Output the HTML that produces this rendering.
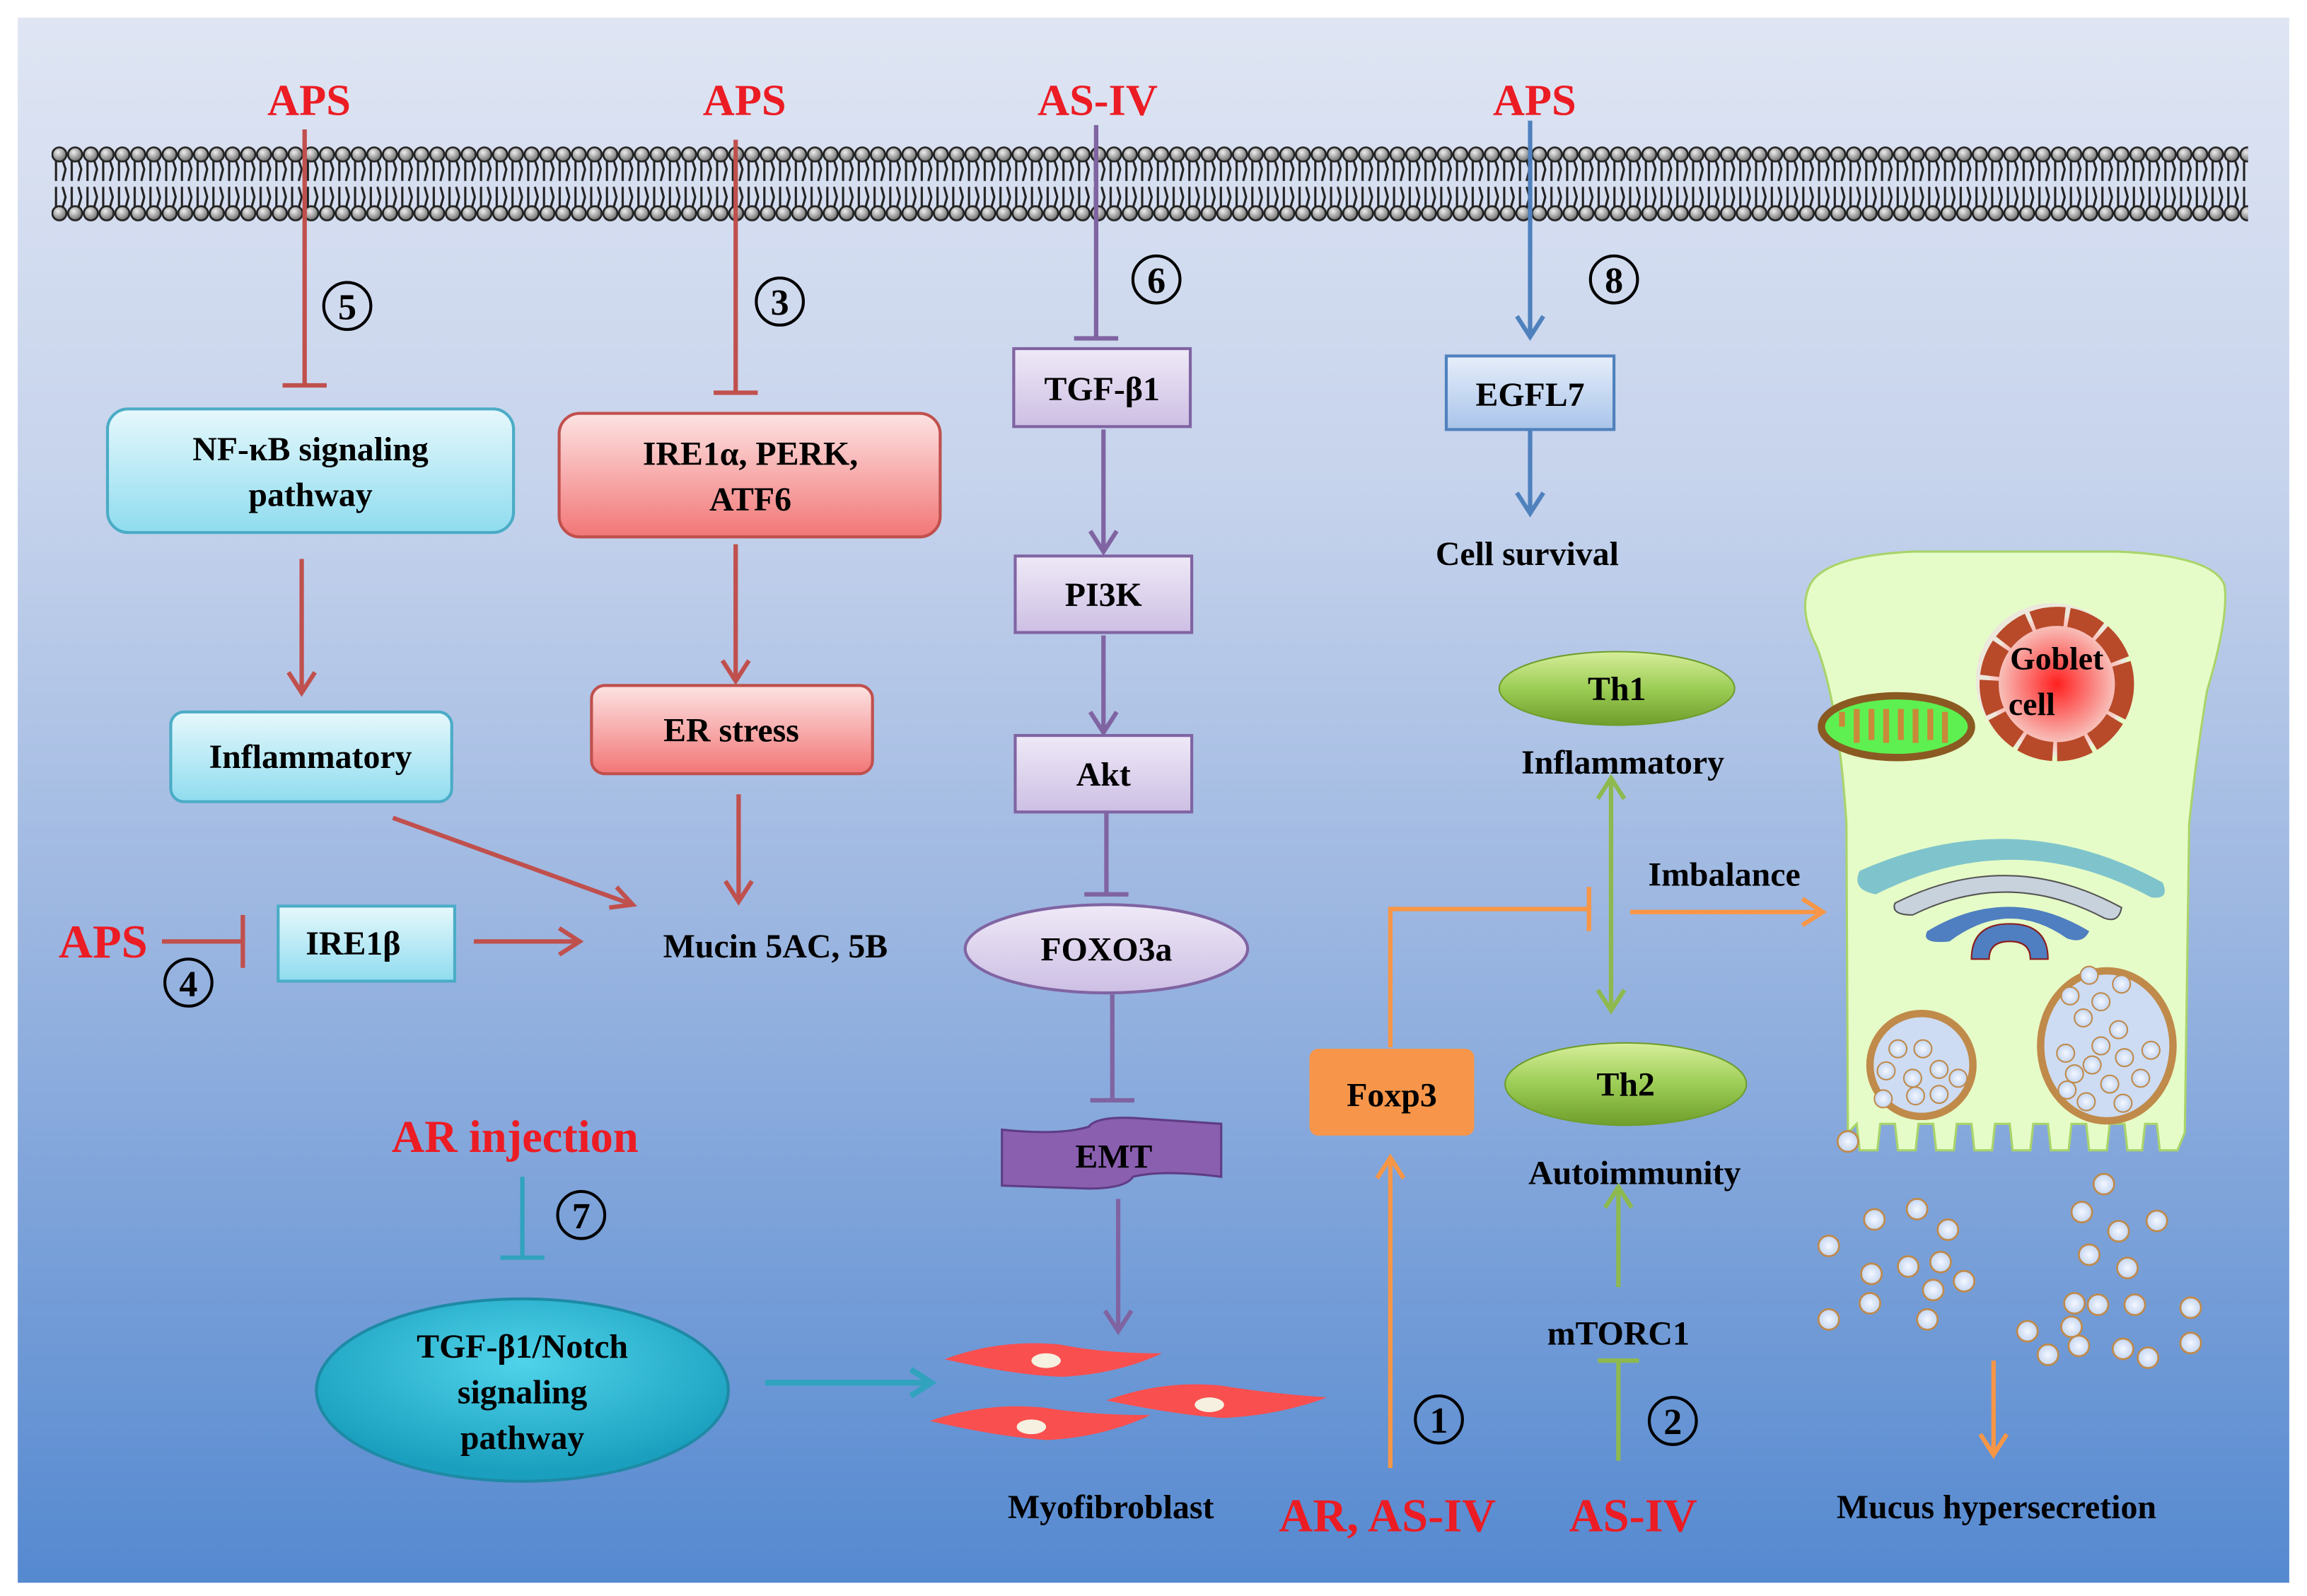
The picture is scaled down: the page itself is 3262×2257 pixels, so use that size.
<!DOCTYPE html>
<html><head><meta charset="utf-8"><style>
html,body{margin:0;padding:0;background:#fff;}
svg{display:block;}
text{font-family:"Liberation Serif",serif;font-weight:bold;}
</style></head><body>
<svg width="3262" height="2257" viewBox="0 0 1568 1085" xmlns="http://www.w3.org/2000/svg">
<defs>
<linearGradient id="bg" x1="0" y1="0" x2="0" y2="1">
<stop offset="0" stop-color="#dfe5f3"/><stop offset="0.3" stop-color="#c6d3ec"/><stop offset="0.6" stop-color="#98b4e0"/><stop offset="1" stop-color="#5589d0"/></linearGradient>
<linearGradient id="cy" x1="0" y1="0" x2="0" y2="1"><stop offset="0" stop-color="#e6f8fc"/><stop offset="1" stop-color="#8fdcef"/></linearGradient>
<linearGradient id="rd" x1="0" y1="0" x2="0" y2="1"><stop offset="0" stop-color="#fde3e3"/><stop offset="1" stop-color="#f27676"/></linearGradient>
<linearGradient id="pu" x1="0" y1="0" x2="0" y2="1"><stop offset="0" stop-color="#efe9f7"/><stop offset="1" stop-color="#cdbfe4"/></linearGradient>
<linearGradient id="bl" x1="0" y1="0" x2="0" y2="1"><stop offset="0" stop-color="#e6eefa"/><stop offset="1" stop-color="#a9c4ea"/></linearGradient>
<linearGradient id="gr" x1="0" y1="0" x2="0" y2="1"><stop offset="0" stop-color="#d7ee9a"/><stop offset="0.5" stop-color="#9ccd55"/><stop offset="1" stop-color="#6f9e2c"/></linearGradient>
<radialGradient id="tl" cx="0.5" cy="0.35" r="0.6"><stop offset="0" stop-color="#4fd3ea"/><stop offset="1" stop-color="#1a9fbe"/></radialGradient>
<radialGradient id="nuc" cx="0.5" cy="0.5" r="0.5"><stop offset="0" stop-color="#ff2020"/><stop offset="1" stop-color="#f7d9d2"/></radialGradient>
<radialGradient id="ves" cx="0.5" cy="0.5" r="0.5"><stop offset="0" stop-color="#f4f7ff"/><stop offset="1" stop-color="#c4d6f2"/></radialGradient>
<radialGradient id="hd" cx="0.4" cy="0.35" r="0.6"><stop offset="0" stop-color="#eee"/><stop offset="1" stop-color="#777"/></radialGradient>
<pattern id="mem" x="35" y="98" width="10.7" height="54" patternUnits="userSpaceOnUse">
<circle cx="5.3" cy="7" r="4.8" fill="url(#hd)" stroke="#222" stroke-width="1.3"/>
<circle cx="5.3" cy="47" r="4.8" fill="url(#hd)" stroke="#222" stroke-width="1.3"/>
<path d="M3 11 V25 M7.5 11 L9.5 17 L7.5 25 M3 29 V43 M7.5 29 L9.5 36 L7.5 43" stroke="#222" stroke-width="1.5" fill="none"/>
</pattern>
</defs>
<rect x="12" y="12" width="1544" height="1064" fill="url(#bg)"/>
<rect x="35" y="98" width="1493" height="54" fill="url(#mem)"/>

<g text-anchor="middle">
<text x="210" y="78" font-size="30" fill="#ec1c24">APS</text>
<text x="506" y="78" font-size="30" fill="#ec1c24">APS</text>
<text x="746" y="78" font-size="30" fill="#ec1c24">AS-IV</text>
<text x="1043" y="78" font-size="30" fill="#ec1c24">APS</text>

<g stroke-width="3" fill="none">
<path d="M207 88 V262 M192 262 H222" stroke="#c0504d"/>
<path d="M500 95 V267 M485 267 H515" stroke="#c0504d"/>
<path d="M745 85 V230 M730 230 H760" stroke="#8064a2"/>
<path d="M1040 82 V228 M1031 215 L1040 229 L1049 215" stroke="#4f81bd"/>
<path d="M1040 292 V348 M1031 335 L1040 349 L1049 335" stroke="#4f81bd"/>
<path d="M205 380 V470 M196 457 L205 471 L214 457" stroke="#c0504d"/>
<path d="M500 370 V462 M491 449 L500 463 L509 449" stroke="#c0504d"/>
<path d="M502 540 V612 M493 599 L502 613 L511 599" stroke="#c0504d"/>
<path d="M267 556 L430 615 M414 617 L430 615 L419 603" stroke="#c0504d"/>
<path d="M110 640 H165 M165 622 V658" stroke="#c0504d"/>
<path d="M322 640 H393 M380 631 L394 640 L380 649" stroke="#c0504d"/>
<path d="M750 292 V374 M741 361 L750 375 L759 361" stroke="#8064a2"/>
<path d="M750 432 V497 M741 484 L750 498 L759 484" stroke="#8064a2"/>
<path d="M752 552 V608 M737 608 H767" stroke="#8064a2"/>
<path d="M756 676 V748 M741 748 H771" stroke="#8064a2"/>
<path d="M760 815 V904 M751 891 L760 905 L769 891" stroke="#8064a2"/>
<path d="M355 800 V855 M340 855 H370" stroke="#31a3bf"/>
<path d="M520 940 H632 M619 931 L633 940 L619 949" stroke="#31a3bf" stroke-width="4"/>
<path d="M945 712 V618 H1080 M1080 603 V633" stroke="#f79646"/>
<path d="M945 998 V788 M936 801 L945 787 L954 801" stroke="#f79646"/>
<path d="M1108 620 H1238 M1225 611 L1239 620 L1225 629" stroke="#f79646"/>
<path d="M1355 925 V988 M1346 975 L1355 989 L1364 975" stroke="#f79646"/>
<path d="M1095 530 V686 M1086 543 L1095 529 L1104 543 M1086 673 L1095 687 L1104 673" stroke="#8eb94f"/>
<path d="M1100 875 V808 M1091 821 L1100 807 L1109 821" stroke="#8eb94f"/>
<path d="M1100 993 V925 M1086 925 H1114" stroke="#8eb94f"/>
</g>

<rect x="73" y="278" width="276" height="84" rx="14" fill="url(#cy)" stroke="#4bacc6" stroke-width="2"/>
<text x="211" y="313" font-size="23">NF-κB signaling</text>
<text x="211" y="344" font-size="23">pathway</text>
<rect x="380" y="281" width="259" height="84" rx="14" fill="url(#rd)" stroke="#c0504d" stroke-width="2"/>
<text x="510" y="316" font-size="23">IRE1α, PERK,</text>
<text x="510" y="347" font-size="23">ATF6</text>
<rect x="116" y="484" width="191" height="61" rx="9" fill="url(#cy)" stroke="#4bacc6" stroke-width="2"/>
<text x="211" y="522" font-size="23">Inflammatory</text>
<rect x="402" y="466" width="191" height="60" rx="9" fill="url(#rd)" stroke="#c0504d" stroke-width="2"/>
<text x="497" y="504" font-size="23">ER stress</text>
<rect x="189" y="616" width="120" height="51" fill="url(#cy)" stroke="#4bacc6" stroke-width="2"/>
<text x="240" y="649" font-size="23">IRE1β</text>
<text x="527" y="651" font-size="23">Mucin 5AC, 5B</text>
<text x="70" y="651" font-size="32" fill="#ec1c24">APS</text>

<rect x="689" y="237" width="120" height="53" fill="url(#pu)" stroke="#8064a2" stroke-width="2"/>
<text x="749" y="272" font-size="23">TGF-β1</text>
<rect x="690" y="378" width="120" height="52" fill="url(#pu)" stroke="#8064a2" stroke-width="2"/>
<text x="750" y="412" font-size="23">PI3K</text>
<rect x="690" y="500" width="120" height="52" fill="url(#pu)" stroke="#8064a2" stroke-width="2"/>
<text x="750" y="534" font-size="23">Akt</text>
<ellipse cx="752" cy="645" rx="96" ry="30" fill="url(#pu)" stroke="#8064a2" stroke-width="2"/>
<text x="752" y="653" font-size="23">FOXO3a</text>
<path d="M681 768 Q720 772 740 766 Q745 759 770 760 L830 764 L830 800 Q790 795 770 800 Q765 808 740 808 L681 806 Z" fill="#8a5fb0" stroke="#5f3c85" stroke-width="1.5"/>
<text x="757" y="794" font-size="23">EMT</text>

<rect x="983" y="242" width="114" height="50" fill="url(#bl)" stroke="#4f81bd" stroke-width="2"/>
<text x="1040" y="276" font-size="23">EGFL7</text>
<text x="1038" y="384" font-size="23">Cell survival</text>

<g fill="none" stroke="#000" stroke-width="2">
<circle cx="236" cy="208" r="16"/><circle cx="530" cy="205" r="16"/><circle cx="786" cy="190" r="16"/><circle cx="1097" cy="190" r="16"/>
<circle cx="128" cy="668" r="16"/><circle cx="395" cy="826" r="16"/><circle cx="978" cy="965" r="16"/><circle cx="1137" cy="966" r="16"/>
</g>
<g font-size="25" font-weight="normal">
<text x="236" y="217" font-weight="normal">5</text><text x="530" y="214" font-weight="normal">3</text><text x="786" y="199" font-weight="normal">6</text><text x="1097" y="199" font-weight="normal">8</text>
<text x="128" y="677" font-weight="normal">4</text><text x="395" y="835" font-weight="normal">7</text><text x="978" y="974" font-weight="normal">1</text><text x="1137" y="975" font-weight="normal">2</text>
</g>

<text x="350" y="783" font-size="31" fill="#ec1c24">AR injection</text>
<ellipse cx="355" cy="945" rx="140" ry="62" fill="url(#tl)" stroke="#1e8aa5" stroke-width="2"/>
<text x="355" y="923" font-size="23">TGF-β1/Notch</text>
<text x="355" y="954" font-size="23">signaling</text>
<text x="355" y="985" font-size="23">pathway</text>

<g fill="#f94f4f">
<path d="M642 924 Q680 910 720 914 Q750 920 790 920 Q760 934 722 936 Q690 935 642 924Z"/>
<path d="M632 966 Q670 953 710 957 Q740 962 782 962 Q750 977 712 979 Q680 977 632 966Z"/>
<path d="M752 952 Q790 938 830 942 Q860 947 902 950 Q870 962 832 964 Q800 962 752 952Z"/>
</g>
<g fill="#f5f0e0"><ellipse cx="711" cy="925" rx="10" ry="5"/><ellipse cx="701" cy="970" rx="10" ry="5"/><ellipse cx="822" cy="955" rx="10" ry="5"/></g>
<text x="755" y="1032" font-size="23">Myofibroblast</text>
<text x="943" y="1041" font-size="32" fill="#ec1c24">AR, AS-IV</text>
<text x="1110" y="1041" font-size="32" fill="#ec1c24">AS-IV</text>

<rect x="890" y="713" width="112" height="59" rx="6" fill="#f7964a"/>
<text x="946" y="752" font-size="23">Foxp3</text>
<ellipse cx="1099" cy="468" rx="80" ry="25" fill="url(#gr)" stroke="#6f9e2c" stroke-width="1"/>
<text x="1099" y="476" font-size="23">Th1</text>
<text x="1103" y="526" font-size="23">Inflammatory</text>
<text x="1172" y="602" font-size="23">Imbalance</text>
<ellipse cx="1105" cy="737" rx="82" ry="28" fill="url(#gr)" stroke="#6f9e2c" stroke-width="1"/>
<text x="1105" y="745" font-size="23">Th2</text>
<text x="1111" y="805" font-size="23">Autoimmunity</text>
<text x="1100" y="914" font-size="23">mTORC1</text>
<text x="1357" y="1032" font-size="23">Mucus hypersecretion</text>
</g>

<path d="M1230 398 Q1240 378 1300 375 L1440 375 Q1505 378 1512 398 Q1515 420 1500 470 Q1492 520 1488 560 L1485 770 L1480 782 L1468 782 L1466 764 L1458 764 L1456 782 L1446 782 L1444 764 L1434 764 L1432 782 L1420 782 L1418 764 L1408 764 L1406 782 L1394 782 L1392 764 L1382 764 L1380 782 L1368 782 L1366 764 L1356 764 L1354 782 L1342 782 L1340 764 L1330 764 L1328 782 L1316 782 L1314 764 L1304 764 L1302 782 L1290 782 L1288 764 L1278 764 L1276 782 L1264 782 L1262 764 L1256 770 L1255 560 Q1250 480 1235 440 Q1222 415 1230 398Z" fill="#e6fcc8" stroke="#a9d46a" stroke-width="1.5"/>
<circle cx="1395" cy="462" r="52" fill="#ece8dc"/>
<circle cx="1398" cy="465" r="46" fill="url(#nuc)" stroke="#b84a2a" stroke-width="13" stroke-dasharray="22 3"/>
<text x="1398" y="455" text-anchor="middle" font-family="Liberation Sans,sans-serif" font-size="22" font-weight="bold">Goblet</text>
<text x="1381" y="486" text-anchor="middle" font-family="Liberation Sans,sans-serif" font-size="22" font-weight="bold">cell</text>
<ellipse cx="1289" cy="494" rx="51" ry="21" fill="#5ef050" stroke="#8a5a22" stroke-width="5"/>
<path d="M1252 494 V484 M1262 505 V482 M1272 482 V503 M1282 505 V482 M1292 482 V503 M1302 505 V482 M1312 482 V503 M1322 505 V484" stroke="#c9893a" stroke-width="4"/>
<path d="M1264 592 Q1370 545 1470 600 Q1475 612 1462 610 Q1370 560 1275 608 Q1258 605 1264 592Z" fill="#7fc4cc"/>
<path d="M1288 614 Q1365 575 1442 617 Q1440 628 1430 624 Q1365 590 1300 622 Q1285 622 1288 614Z" fill="#c8d2dc" stroke="#555" stroke-width="1"/>
<path d="M1310 633 Q1365 600 1420 633 Q1416 642 1405 638 Q1365 610 1325 640 Q1305 642 1310 633Z" fill="#4f7fc0"/>
<path d="M1340 652 Q1340 628 1366 628 Q1392 628 1392 652 L1380 652 Q1380 640 1366 640 Q1352 640 1352 652Z" fill="#4f7fc0" stroke="#8b1a1a" stroke-width="1"/>
<circle cx="1306" cy="724" r="35" fill="#cddcf3" stroke="#c08a4a" stroke-width="5"/>
<ellipse cx="1432" cy="711" rx="45" ry="51" fill="#cddcf3" stroke="#c08a4a" stroke-width="5"/>
<g fill="url(#ves)" stroke="#c08a4a" stroke-width="1">
<circle cx="1290" cy="713" r="6"/><circle cx="1307" cy="713" r="6"/><circle cx="1282" cy="728" r="6"/><circle cx="1300" cy="733" r="6"/><circle cx="1318" cy="727" r="6"/><circle cx="1331" cy="733" r="6"/><circle cx="1280" cy="747" r="6"/><circle cx="1302" cy="745" r="6"/><circle cx="1318" cy="744" r="6"/>
<circle cx="1420" cy="663" r="6"/><circle cx="1442" cy="669" r="6"/><circle cx="1407" cy="677" r="6"/><circle cx="1428" cy="681" r="6"/><circle cx="1416" cy="692" r="6"/><circle cx="1440" cy="700" r="6"/><circle cx="1428" cy="711" r="6"/><circle cx="1404" cy="716" r="6"/><circle cx="1422" cy="724" r="6"/><circle cx="1444" cy="719" r="6"/><circle cx="1462" cy="714" r="6"/><circle cx="1410" cy="730" r="6"/><circle cx="1434" cy="737" r="6"/><circle cx="1455" cy="733" r="6"/><circle cx="1418" cy="749" r="6"/><circle cx="1443" cy="750" r="6"/><circle cx="1405" cy="741" r="6"/>
</g>
<g fill="url(#ves)" stroke="#c08a4a" stroke-width="1.3">
<circle cx="1256" cy="776" r="7"/><circle cx="1430" cy="805" r="7"/>
<circle cx="1243" cy="847" r="7"/><circle cx="1274" cy="829" r="7"/><circle cx="1303" cy="822" r="7"/><circle cx="1324" cy="836" r="7"/><circle cx="1272" cy="866" r="7"/><circle cx="1297" cy="861" r="7"/><circle cx="1319" cy="858" r="7"/><circle cx="1335" cy="871" r="7"/><circle cx="1314" cy="877" r="7"/><circle cx="1271" cy="886" r="7"/><circle cx="1310" cy="897" r="7"/><circle cx="1243" cy="897" r="7"/>
<circle cx="1415" cy="824" r="7"/><circle cx="1440" cy="837" r="7"/><circle cx="1466" cy="830" r="7"/><circle cx="1420" cy="853" r="7"/><circle cx="1446" cy="862" r="7"/><circle cx="1410" cy="886" r="7"/><circle cx="1426" cy="887" r="7"/><circle cx="1451" cy="887" r="7"/><circle cx="1489" cy="889" r="7"/><circle cx="1378" cy="905" r="7"/><circle cx="1408" cy="902" r="7"/><circle cx="1413" cy="915" r="7"/><circle cx="1392" cy="921" r="7"/><circle cx="1443" cy="917" r="7"/><circle cx="1460" cy="923" r="7"/><circle cx="1489" cy="913" r="7"/>
</g>
</svg>
</body></html>
